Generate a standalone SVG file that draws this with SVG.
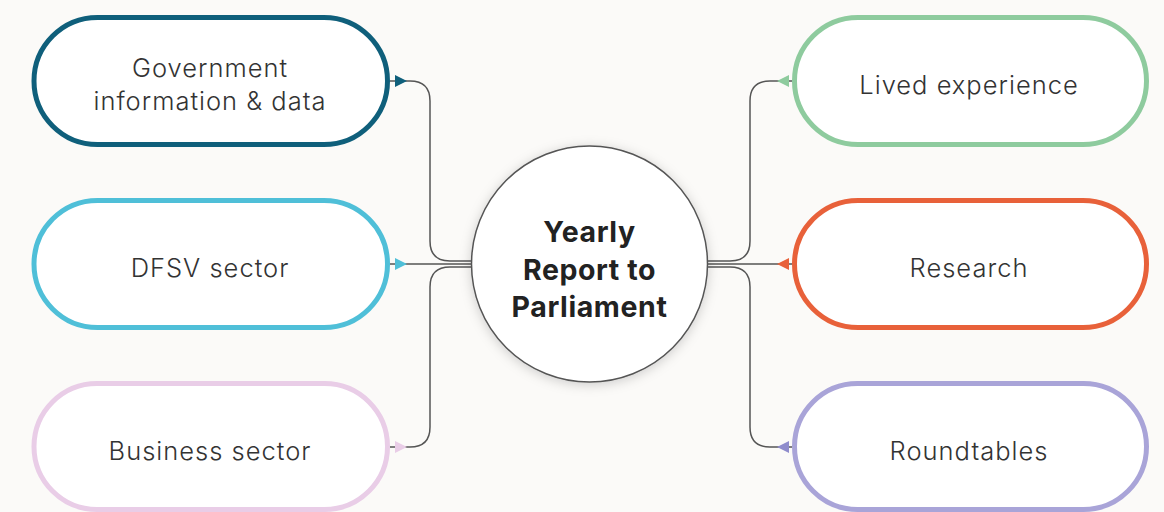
<svg xmlns="http://www.w3.org/2000/svg" width="1164" height="512" viewBox="0 0 1164 512">
<defs>
<style>
.pill{fill:#ffffff;stroke-width:5}
.lbl{font-family:Inter,"Liberation Sans",sans-serif;font-size:25.5px;font-weight:300;letter-spacing:1px;fill:#333333;text-anchor:middle}
.ctr{font-family:Inter,"Liberation Sans",sans-serif;font-size:28.5px;font-weight:700;letter-spacing:0.6px;fill:#222222;text-anchor:middle}
.con{fill:none;stroke:#555555;stroke-width:1.5}
</style>
<filter id="sh" x="-30%" y="-30%" width="160%" height="160%">
<feDropShadow dx="0" dy="2" stdDeviation="6" flood-color="#000000" flood-opacity="0.18"/>
</filter>
<marker id="a1" markerUnits="userSpaceOnUse" markerWidth="20" markerHeight="14" viewBox="-6 -7 20 14" refX="-5" refY="0" orient="auto"><path d="M0,-6 L12,0 L0,6 Z" fill="#0f5f7b"/></marker>
<marker id="a2" markerUnits="userSpaceOnUse" markerWidth="20" markerHeight="14" viewBox="-6 -7 20 14" refX="-5" refY="0" orient="auto"><path d="M0,-6 L12,0 L0,6 Z" fill="#4fbfd8"/></marker>
<marker id="a3" markerUnits="userSpaceOnUse" markerWidth="20" markerHeight="14" viewBox="-6 -7 20 14" refX="-5" refY="0" orient="auto"><path d="M0,-6 L12,0 L0,6 Z" fill="#e9cde7"/></marker>
<marker id="a4" markerUnits="userSpaceOnUse" markerWidth="20" markerHeight="14" viewBox="-6 -7 20 14" refX="-3" refY="0" orient="auto"><path d="M0,-6 L12,0 L0,6 Z" fill="#8ecb9e"/></marker>
<marker id="a5" markerUnits="userSpaceOnUse" markerWidth="20" markerHeight="14" viewBox="-6 -7 20 14" refX="-3" refY="0" orient="auto"><path d="M0,-6 L12,0 L0,6 Z" fill="#e8613a"/></marker>
<marker id="a6" markerUnits="userSpaceOnUse" markerWidth="20" markerHeight="14" viewBox="-6 -7 20 14" refX="-3" refY="0" orient="auto"><path d="M0,-6 L12,0 L0,6 Z" fill="#8f8ccc"/></marker>
</defs>
<rect width="1164" height="512" fill="#fbfaf8"/>
<g id="connectors">
<path class="con" marker-start="url(#a1)" d="M390,81 H410 Q430,81 430,101 V241 Q430,261 450,261 H472"/>
<path class="con" marker-start="url(#a2)" d="M390,264 H472"/>
<path class="con" marker-start="url(#a3)" d="M390,447 H410 Q430,447 430,427 V287 Q430,267 450,267 H472"/>
<path class="con" marker-start="url(#a4)" d="M792,81 H770 Q750,81 750,101 V241 Q750,261 730,261 H707"/>
<path class="con" marker-start="url(#a5)" d="M792,264 H707"/>
<path class="con" marker-start="url(#a6)" d="M792,447 H770 Q750,447 750,427 V287 Q750,267 730,267 H707"/>
</g>
<g id="n-gov"><rect class="pill" x="34" y="17.5" width="353.5" height="127" rx="63.5" stroke="#0f5f7b"/><text class="lbl" x="210" y="77">Government</text><text class="lbl" x="210" y="110">information &amp; data</text></g>
<g id="n-dfsv"><rect class="pill" x="34" y="200.5" width="353.5" height="127" rx="63.5" stroke="#4fbfd8"/><text class="lbl" x="210" y="277">DFSV sector</text></g>
<g id="n-bus"><rect class="pill" x="34" y="383.5" width="353.5" height="126" rx="63" stroke="#e9cde7"/><text class="lbl" x="210" y="460">Business sector</text></g>
<g id="n-lived"><rect class="pill" x="794.5" y="17.5" width="352" height="127" rx="63.5" stroke="#8ecb9e"/><text class="lbl" x="969" y="94">Lived experience</text></g>
<g id="n-research"><rect class="pill" x="794.5" y="200.5" width="352" height="127" rx="63.5" stroke="#e8613a"/><text class="lbl" x="969" y="277">Research</text></g>
<g id="n-round"><rect class="pill" x="794.5" y="383.5" width="352" height="126" rx="63" stroke="#a9a4d8"/><text class="lbl" x="969" y="460">Roundtables</text></g>
<g id="n-center"><circle cx="589.5" cy="264" r="118" fill="#ffffff" stroke="#555555" stroke-width="1.5" filter="url(#sh)"/><text class="ctr" x="589.5" y="242">Yearly</text><text class="ctr" x="589.5" y="279.5">Report to</text><text class="ctr" x="589.5" y="317">Parliament</text></g>
</svg>
